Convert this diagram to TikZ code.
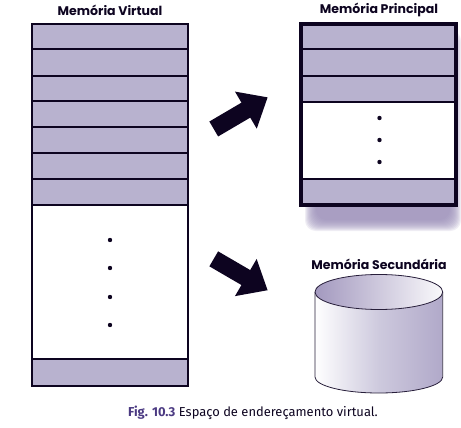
\documentclass[tikz,border=0pt]{standalone}
\usepackage{fontspec}
\setmainfont{Fira Sans}
\newfontfamily\titlefont{Poppins}
\usetikzlibrary{arrows.meta}
\definecolor{inkdark}{HTML}{0D0420}
\definecolor{rowfill}{HTML}{B8B2CF}
\definecolor{shadowviolet}{HTML}{9A8EB8}
\definecolor{capviolet}{HTML}{4B3A82}
\tikzset{
  rowbox/.style   = {fill=rowfill, draw=inkdark, line width=1.5pt},
  memdot/.style   = {fill=inkdark},
  memtitle/.style = {font=\titlefont\bfseries\fontsize{9.4}{11}\selectfont, text=inkdark},
  bigarrow/.style = {draw=inkdark, line width=13pt,
                     -{Triangle[length=19pt,width=31pt]}},
}
\begin{document}
\begin{tikzpicture}[x=0.75pt, y=-0.75pt]
  \useasboundingbox (0,0) rectangle (461,428);

  % memoria virtual
  \foreach \ya/\yb in {24.5/49.5, 49.5/76, 76/101.5, 101.5/127.5, 127.5/153,
                       153/179, 179/205, 359/385.5}
    \draw[rowbox] (32,\ya) rectangle (187.5,\yb);
  \draw[inkdark, line width=1.5pt] (32,205) rectangle (187.5,359);
  \foreach \y in {240,268,297,325}
    \fill[memdot] (110,\y) circle (2.2);
  \node[memtitle] (virtualtitle) at (110,10) {Memória Virtual};

  % sombra
  \foreach \i in {0,...,11}
    \fill[shadowviolet, opacity=0.15, rounded corners=8pt]
      (305+\i,30+\i) rectangle (461-\i,231-\i);
  \fill[white] (299,22) rectangle (458,207);

  % memoria principal
  \foreach \ya/\yb in {24/49.5, 49.5/76.5, 76.5/102.5, 178.5/205}
    \draw[rowbox] (301,\ya) rectangle (456,\yb);
  \draw[inkdark, line width=3pt] (301,24) rectangle (456,205);
  \foreach \y in {118,140,162}
    \fill[memdot] (379.5,\y) circle (2.2);
  \node[memtitle] (principaltitle) at (379,10) {Memória Principal};

  % memoria secundaria
  \shade[left color=white, right color=rowfill!75!shadowviolet, middle color=rowfill!70!white]
    (315,292) -- (315,377) arc[start angle=180, end angle=0, x radius=63.85, y radius=16]
    -- (442.7,292) arc[start angle=0, end angle=-180, x radius=63.85, y radius=17.5] -- cycle;
  \draw[inkdark!85!rowfill, line width=0.6pt]
    (315,292) -- (315,377) arc[start angle=180, end angle=0, x radius=63.85, y radius=16]
    -- (442.7,292);
  \shade[left color=shadowviolet!70!rowfill, right color=white!92!rowfill, draw=inkdark!85!rowfill, line width=0.6pt]
    (378.85,292) ellipse [x radius=63.85, y radius=17.5];
  \node[memtitle] (secundariatitle) at (379,264) {Memória Secundária};

  % setas
  \coordinate (upstart) at (213.75,129);
  \coordinate (upend) at (267.7,97.3);
  \coordinate (downstart) at (213.75,258.85);
  \coordinate (downend) at (267.7,290.3);
  \draw[bigarrow] (upstart) -- (upend);
  \draw[bigarrow] (downstart) -- (downend);

  \node[font=\fontsize{9.7}{11}\selectfont, text=inkdark] (caption) at (253,413)
    {\textcolor{capviolet}{\bfseries Fig. 10.3} Espaço de endereçamento virtual.};
\end{tikzpicture}
\end{document}
